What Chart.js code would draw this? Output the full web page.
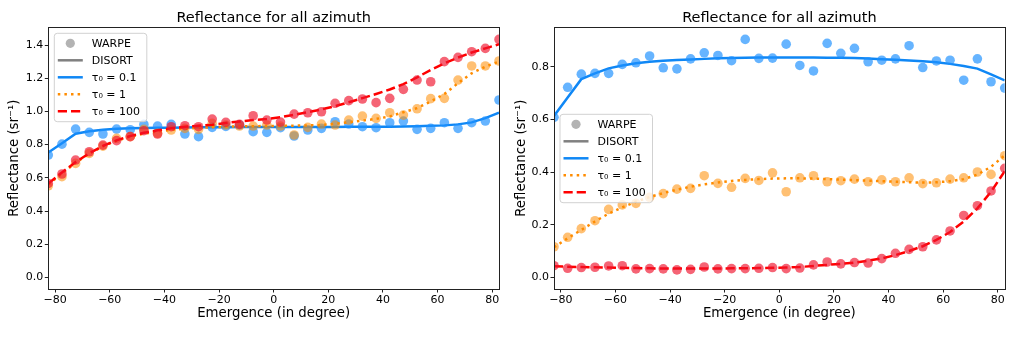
<!DOCTYPE html>
<html>
<head>
<meta charset="utf-8">
<script src="https://cdn.jsdelivr.net/npm/chart.js@4.4.1/dist/chart.umd.min.js"></script>
<style>
  html, body { margin: 0; padding: 0; background: #fff; }
  #wrap { position: relative; width: 1016px; height: 338px; }
  canvas { position: absolute; top: 0; }
</style>
</head>
<body>
<div id="wrap">
  <canvas id="leftChart" width="508" height="338" style="left:0"></canvas>
  <canvas id="rightChart" width="508" height="338" style="left:508px"></canvas>
</div>
<script>
// emergence angles (degrees) shared by every series
const emergence = [-82.5, -77.5, -72.5, -67.5, -62.5, -57.5, -52.5, -47.5, -42.5, -37.5,
  -32.5, -27.5, -22.5, -17.5, -12.5, -7.5, -2.5, 2.5, 7.5, 12.5, 17.5, 22.5, 27.5, 32.5,
  37.5, 42.5, 47.5, 52.5, 57.5, 62.5, 67.5, 72.5, 77.5, 82.5];

const xTicks = [-80, -60, -40, -20, 0, 20, 40, 60, 80];
const leftYTicks = [0.0, 0.2, 0.4, 0.6, 0.8, 1.0, 1.2, 1.4];
const rightYTicks = [0.0, 0.2, 0.4, 0.6, 0.8];

// left panel: WARPE samples
const leftWarpe01 = [0.737, 0.803, 0.894, 0.874, 0.864, 0.894, 0.890, 0.922, 0.912, 0.922,
  0.864, 0.848, 0.904, 0.910, 0.918, 0.878, 0.874, 0.902, 0.852, 0.888, 0.898, 0.938, 0.924,
  0.908, 0.902, 0.932, 0.942, 0.892, 0.898, 0.932, 0.898, 0.932, 0.942, 1.069];
const leftWarpe1 = [0.552, 0.607, 0.687, 0.747, 0.791, 0.838, 0.848, 0.892, 0.868, 0.888,
  0.898, 0.892, 0.928, 0.918, 0.912, 0.912, 0.918, 0.912, 0.858, 0.904, 0.924, 0.918, 0.948,
  0.972, 0.958, 0.992, 0.978, 1.016, 1.077, 1.079, 1.189, 1.274, 1.274, 1.304];
const leftWarpe100 = [0.566, 0.623, 0.707, 0.757, 0.797, 0.824, 0.848, 0.884, 0.864, 0.908,
  0.914, 0.908, 0.954, 0.934, 0.922, 0.974, 0.948, 0.936, 0.984, 0.992, 0.998, 1.049, 1.065,
  1.075, 1.053, 1.079, 1.133, 1.189, 1.179, 1.300, 1.326, 1.360, 1.380, 1.434];

// left panel: DISORT curves
const leftDisort01 = [0.752, 0.808, 0.866, 0.880, 0.890, 0.895, 0.898, 0.900, 0.901, 0.902,
  0.903, 0.904, 0.905, 0.905, 0.906, 0.906, 0.906, 0.906, 0.906, 0.906, 0.906, 0.906, 0.907,
  0.907, 0.907, 0.908, 0.909, 0.911, 0.913, 0.916, 0.922, 0.934, 0.960, 0.992];
const leftDisort1 = [0.560, 0.625, 0.690, 0.745, 0.790, 0.823, 0.848, 0.866, 0.879, 0.889,
  0.896, 0.901, 0.905, 0.908, 0.910, 0.911, 0.912, 0.913, 0.914, 0.916, 0.918, 0.925, 0.935,
  0.945, 0.955, 0.970, 0.995, 1.020, 1.060, 1.105, 1.170, 1.230, 1.270, 1.300];
const leftDisort100 = [0.565, 0.632, 0.695, 0.748, 0.792, 0.826, 0.852, 0.871, 0.886, 0.898,
  0.907, 0.914, 0.920, 0.930, 0.940, 0.948, 0.955, 0.965, 0.980, 0.995, 1.012, 1.032, 1.055,
  1.080, 1.105, 1.132, 1.165, 1.205, 1.250, 1.290, 1.325, 1.355, 1.380, 1.405];

// right panel: WARPE samples
const rightWarpe01 = [0.608, 0.722, 0.772, 0.775, 0.775, 0.809, 0.815, 0.841, 0.796, 0.792,
  0.830, 0.853, 0.843, 0.823, 0.904, 0.832, 0.833, 0.886, 0.805, 0.784, 0.889, 0.851, 0.870,
  0.819, 0.825, 0.830, 0.880, 0.797, 0.822, 0.825, 0.749, 0.830, 0.743, 0.719];
const rightWarpe1 = [0.116, 0.152, 0.185, 0.215, 0.258, 0.275, 0.281, 0.304, 0.318, 0.335,
  0.338, 0.386, 0.357, 0.342, 0.376, 0.368, 0.397, 0.325, 0.378, 0.386, 0.363, 0.367, 0.373,
  0.363, 0.370, 0.363, 0.378, 0.356, 0.359, 0.373, 0.378, 0.400, 0.391, 0.462];
const rightWarpe100 = [0.044, 0.034, 0.037, 0.038, 0.043, 0.044, 0.032, 0.033, 0.032, 0.028,
  0.030, 0.039, 0.032, 0.033, 0.033, 0.034, 0.037, 0.033, 0.035, 0.047, 0.058, 0.051, 0.056,
  0.054, 0.071, 0.091, 0.106, 0.116, 0.142, 0.176, 0.235, 0.272, 0.328, 0.414];

// right panel: DISORT curves
const rightDisort01 = [0.613, 0.683, 0.753, 0.775, 0.794, 0.805, 0.813, 0.819, 0.823, 0.826,
  0.828, 0.830, 0.832, 0.833, 0.834, 0.835, 0.835, 0.835, 0.835, 0.835, 0.834, 0.834, 0.833,
  0.831, 0.829, 0.827, 0.824, 0.821, 0.817, 0.811, 0.803, 0.793, 0.771, 0.748];
const rightDisort1 = [0.114, 0.148, 0.180, 0.212, 0.242, 0.266, 0.287, 0.305, 0.320, 0.333,
  0.344, 0.353, 0.360, 0.366, 0.370, 0.373, 0.375, 0.376, 0.376, 0.375, 0.373, 0.371, 0.369,
  0.367, 0.365, 0.363, 0.361, 0.360, 0.361, 0.365, 0.373, 0.390, 0.420, 0.463];
const rightDisort100 = [0.042, 0.040, 0.039, 0.038, 0.037, 0.036, 0.035, 0.034, 0.033, 0.033,
  0.033, 0.033, 0.033, 0.034, 0.034, 0.035, 0.036, 0.037, 0.039, 0.043, 0.047, 0.051, 0.056,
  0.063, 0.072, 0.084, 0.100, 0.118, 0.142, 0.172, 0.212, 0.262, 0.325, 0.403];

const FONT = 'DejaVu Sans';
const TITLE = 'Reflectance for all azimuth';
const colors = {
  blue: 'rgb(15,135,245)',
  blueDot: 'rgba(30,144,255,0.68)',
  orange: 'rgb(255,140,0)',
  orangeDot: 'rgba(255,140,0,0.55)',
  red: 'rgb(255,0,0)',
  redDot: 'rgba(240,20,45,0.66)',
  gray: 'rgb(128,128,128)',
  grayDot: 'rgba(128,128,128,0.6)'
};
const DOTTED = [2.5, 4.1];
const DASHED = [9.2, 4];

const toPoints = vals => emergence.map((x, i) => ({ x: x, y: vals[i] }));
const minus = s => String(s).replace('-', '\u2212');

function warpe(vals, color, order) {
  return { data: toPoints(vals), backgroundColor: color, borderWidth: 0,
    pointRadius: 4.8, pointHoverRadius: 4.8, showLine: false, order: order };
}
function disort(vals, color, dash, order) {
  return { data: toPoints(vals), borderColor: color, borderWidth: 2.5, borderDash: dash,
    borderCapStyle: 'butt', pointRadius: 0, showLine: true, tension: 0, order: order };
}

// axes frame on all four sides + title centred over the plot area
const frameBox = {
  id: 'frameBox',
  afterDatasetsDraw(chart) {
    const a = chart.chartArea, ctx = chart.ctx;
    ctx.save();
    ctx.strokeStyle = '#222';
    ctx.lineWidth = 1;
    ctx.strokeRect(Math.round(a.left) + 0.5, Math.round(a.top) + 0.5,
      Math.round(a.right - a.left), Math.round(a.bottom - a.top));
    ctx.font = '14.5px "' + FONT + '"';
    ctx.fillStyle = '#000';
    ctx.textAlign = 'center';
    ctx.textBaseline = 'middle';
    ctx.fillText(TITLE, (a.left + a.right) / 2, 18.5);
    ctx.restore();
  }
};

const legendItems = [
  { text: 'WARPE', kind: 'marker', color: colors.grayDot },
  { text: 'DISORT', kind: 'line', color: colors.gray, dash: [] },
  { text: '\u03c4\u2080 = 0.1', kind: 'line', color: colors.blue, dash: [] },
  { text: '\u03c4\u2080 = 1', kind: 'line', color: colors.orange, dash: DOTTED },
  { text: '\u03c4\u2080 = 100', kind: 'line', color: colors.red, dash: DASHED }
];

// matplotlib-like legend box inside the plot area
const legendBox = {
  id: 'legendBox',
  afterDraw(chart, args, opts) {
    const a = chart.chartArea, ctx = chart.ctx;
    const x = a.left + opts.dx, y = a.top + opts.dy, w = 92.5, h = 88.4, r = 3;
    ctx.save();
    ctx.beginPath();
    ctx.moveTo(x + r, y);
    ctx.arcTo(x + w, y, x + w, y + h, r);
    ctx.arcTo(x + w, y + h, x, y + h, r);
    ctx.arcTo(x, y + h, x, y, r);
    ctx.arcTo(x, y, x + w, y, r);
    ctx.closePath();
    ctx.fillStyle = 'rgba(255,255,255,0.8)';
    ctx.fill();
    ctx.strokeStyle = 'rgba(204,204,204,0.9)';
    ctx.lineWidth = 1;
    ctx.stroke();
    ctx.font = '11px "' + FONT + '"';
    ctx.textBaseline = 'middle';
    ctx.textAlign = 'left';
    legendItems.forEach((it, i) => {
      const cy = y + 10 + i * 17;
      if (it.kind === 'marker') {
        ctx.beginPath();
        ctx.arc(x + 16, cy, 4.6, 0, Math.PI * 2);
        ctx.fillStyle = it.color;
        ctx.fill();
      } else {
        ctx.beginPath();
        ctx.setLineDash(it.dash);
        ctx.lineCap = 'butt';
        ctx.moveTo(x + 3.5, cy);
        ctx.lineTo(x + 28.5, cy);
        ctx.strokeStyle = it.color;
        ctx.lineWidth = 2.5;
        ctx.stroke();
        ctx.setLineDash([]);
      }
      ctx.fillStyle = '#000';
      ctx.fillText(it.text, x + 37.5, cy + 0.5);
    });
    ctx.restore();
  }
};

function makeChart(id, series, yRange, yTicks, cfg) {
  const ctx = document.getElementById(id).getContext('2d');
  return new Chart(ctx, {
    type: 'scatter',
    data: {
      datasets: [
        disort(series.d01, colors.blue, [], 6),
        warpe(series.w01, colors.blueDot, 5),
        disort(series.d1, colors.orange, DOTTED, 4),
        warpe(series.w1, colors.orangeDot, 3),
        disort(series.d100, colors.red, DASHED, 2),
        warpe(series.w100, colors.redDot, 1)
      ]
    },
    plugins: [frameBox, legendBox],
    options: {
      responsive: false,
      animation: false,
      events: [],
      layout: { padding: { left: 0, right: cfg.padRight, top: 27.3, bottom: 0 } },
      plugins: {
        legend: { display: false },
        tooltip: { enabled: false },
        title: { display: false },
        legendBox: { dx: 6, dy: cfg.legendTop }
      },
      scales: {
        x: {
          type: 'linear', min: -82.5, max: 82.5,
          afterFit: s => { s.height = 49; },
          afterBuildTicks: s => { s.ticks = xTicks.map(v => ({ value: v })); },
          grid: { drawOnChartArea: false, drawTicks: true, tickLength: 3.5, tickColor: '#222' },
          border: { display: false },
          ticks: { color: '#000', padding: 1, maxRotation: 0, font: { family: FONT, size: 11 },
            callback: v => minus(v) },
          title: { display: true, text: 'Emergence (in degree)', color: '#000',
            font: { family: FONT, size: 13.3 }, padding: { top: 0, bottom: 16.7 } }
        },
        y: {
          type: 'linear', min: yRange[0], max: yRange[1],
          afterFit: s => { s.width = cfg.axisWidth; },
          afterBuildTicks: s => { s.ticks = yTicks.map(v => ({ value: v })); },
          grid: { drawOnChartArea: false, drawTicks: true, tickLength: 3.5, tickColor: '#222' },
          border: { display: false },
          ticks: { color: '#000', padding: 1.5, font: { family: FONT, size: 11 },
            callback: v => minus(v.toFixed(1)) },
          title: { display: true, text: 'Reflectance (sr\u207b\u00b9)', color: '#000',
            font: { family: FONT, size: 13.3 }, padding: { top: cfg.yTitlePad, bottom: 0 } }
        }
      }
    }
  });
}

makeChart('leftChart',
  { w01: leftWarpe01, w1: leftWarpe1, w100: leftWarpe100,
    d01: leftDisort01, d1: leftDisort1, d100: leftDisort100 },
  [-0.07, 1.507], leftYTicks,
  { padRight: 9, axisWidth: 48.3, legendTop: 6, yTitlePad: 7 });

makeChart('rightChart',
  { w01: rightWarpe01, w1: rightWarpe1, w100: rightWarpe100,
    d01: rightDisort01, d1: rightDisort1, d100: rightDisort100 },
  [-0.0446, 0.95], rightYTicks,
  { padRight: 11.3, axisWidth: 46, legendTop: 87, yTitlePad: 5.3 });
</script>
</body>
</html>
